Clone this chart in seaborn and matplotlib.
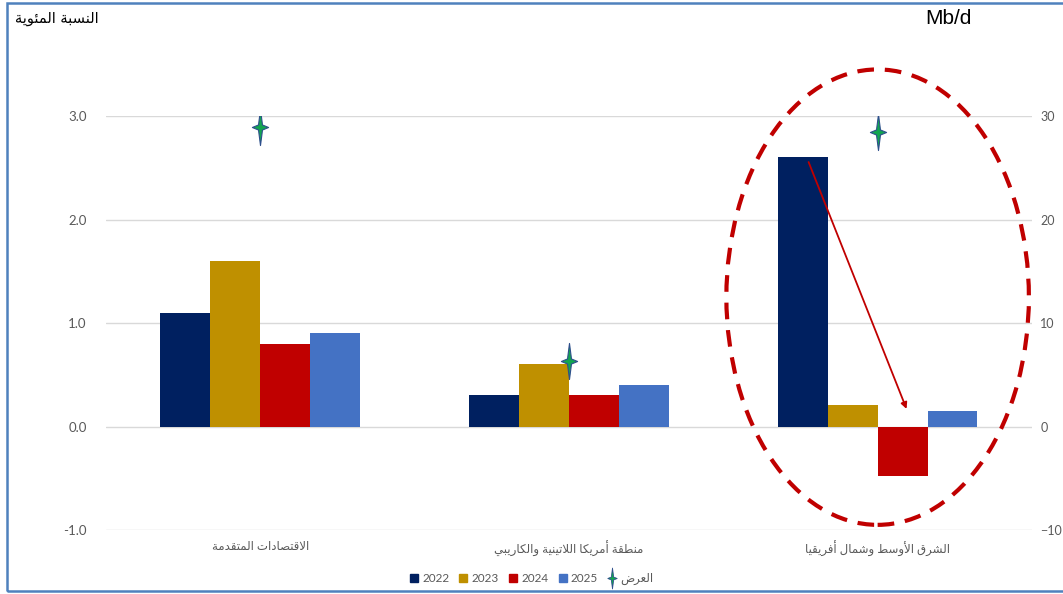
import numpy as np
import pandas as pd
import seaborn as sns
import matplotlib
matplotlib.use("Agg")
from matplotlib import pyplot as plt
from matplotlib.patches import Ellipse, Rectangle, FancyArrowPatch
from matplotlib.path import Path
from matplotlib.lines import Line2D

# ---- data ----
regions = ["الاقتصادات المتقدمة", "منطقة أمريكا اللاتينية والكاريبي", "الشرق الأوسط وشمال أفريقيا"]
years = ["2022", "2023", "2024", "2025"]
growth_2022 = [1.1, 0.3, 2.6]
growth_2023 = [1.6, 0.6, 0.21]
growth_2024 = [0.8, 0.3, -0.48]
growth_2025 = [0.9, 0.4, 0.15]
supply = [28.9, 6.3, 28.5]   # Mb/d, right axis

colors = ["#002060", "#bf9000", "#c00000", "#4472c4"]
grey = "#595959"

# ---- minimal arabic shaping (matplotlib does no joining / bidi) ----
FORMS = {
    'ا': ('\ufe8d', '\ufe8e', None, None),
    'أ': ('\ufe83', '\ufe84', None, None),
    'ب': ('\ufe8f', '\ufe90', '\ufe91', '\ufe92'),
    'ة': ('\ufe93', '\ufe94', None, None),
    'ت': ('\ufe95', '\ufe96', '\ufe97', '\ufe98'),
    'د': ('\ufea9', '\ufeaa', None, None),
    'ر': ('\ufead', '\ufeae', None, None),
    'س': ('\ufeb1', '\ufeb2', '\ufeb3', '\ufeb4'),
    'ش': ('\ufeb5', '\ufeb6', '\ufeb7', '\ufeb8'),
    'ص': ('\ufeb9', '\ufeba', '\ufebb', '\ufebc'),
    'ض': ('\ufebd', '\ufebe', '\ufebf', '\ufec0'),
    'ط': ('\ufec1', '\ufec2', '\ufec3', '\ufec4'),
    'ع': ('\ufec9', '\ufeca', '\ufecb', '\ufecc'),
    'ف': ('\ufed1', '\ufed2', '\ufed3', '\ufed4'),
    'ق': ('\ufed5', '\ufed6', '\ufed7', '\ufed8'),
    'ك': ('\ufed9', '\ufeda', '\ufedb', '\ufedc'),
    'ل': ('\ufedd', '\ufede', '\ufedf', '\ufee0'),
    'م': ('\ufee1', '\ufee2', '\ufee3', '\ufee4'),
    'ن': ('\ufee5', '\ufee6', '\ufee7', '\ufee8'),
    'و': ('\ufeed', '\ufeee', None, None),
    'ي': ('\ufef1', '\ufef2', '\ufef3', '\ufef4'),
    'ئ': ('\ufe89', '\ufe8a', '\ufe8b', '\ufe8c'),
    'لا': ('\ufefb', '\ufefc', None, None),
    'لأ': ('\ufef7', '\ufef8', None, None),
}


def shape(text):
    units = []
    i = 0
    while i < len(text):
        if text[i] == 'ل' and i + 1 < len(text) and text[i + 1] in 'اأ':
            units.append(text[i:i + 2])
            i += 2
        else:
            units.append(text[i])
            i += 1
    out = []
    for k, u in enumerate(units):
        if u not in FORMS:
            out.append(u)
            continue
        iso, fin, ini, med = FORMS[u]
        prev = units[k - 1] if k > 0 else None
        nxt = units[k + 1] if k + 1 < len(units) else None
        join_prev = prev in FORMS and FORMS[prev][2] is not None
        join_next = ini is not None and nxt in FORMS
        if join_prev and join_next:
            out.append(med)
        elif join_prev:
            out.append(fin)
        elif join_next:
            out.append(ini)
        else:
            out.append(iso)
    return ''.join(out)[::-1]


df = pd.DataFrame({
    "region": regions * 4,
    "year": [y for y in years for _ in regions],
    "value": growth_2022 + growth_2023 + growth_2024 + growth_2025,
})

sns.set_style("white")
plt.rcParams['font.family'] = ['Lato', 'DejaVu Sans']

fig = plt.figure(figsize=(10.63, 5.94), dpi=100)
ax = fig.add_axes([0.0997, 0.1077, 0.8711, 0.697])

sns.barplot(data=df, x="region", y="value", hue="year", order=regions,
            hue_order=years, palette=colors, saturation=1, width=0.647,
            gap=0, edgecolor="none", linewidth=0, legend=False, ax=ax)

ax.set_ylim(-1, 3)
ax.set_xlim(-0.5, 2.5)
ax.set_yticks([-1, 0, 1, 2, 3])
ax.set_yticklabels(["-1.0", "0.0", "1.0", "2.0", "3.0"])
ax.yaxis.grid(True, color="#d9d9d9", lw=1)
ax.set_axisbelow(True)
for s in ax.spines.values():
    s.set_visible(False)
ax.tick_params(axis="y", length=0, pad=14, labelsize=9.5, labelcolor=grey)
ax.tick_params(axis="x", length=0, pad=8, labelsize=8.5, labelcolor=grey)
ax.set_xticks(range(len(regions)))
ax.set_xticklabels([shape(r) for r in regions])
ax.set_xlabel("")
ax.set_ylabel("")

# right axis: supply stars
ax2 = ax.twinx()
ax2.set_ylim(-10, 30)
ax2.set_yticks([-10, 0, 10, 20, 30])
for s in ax2.spines.values():
    s.set_visible(False)
ax2.tick_params(axis="y", length=0, pad=6, labelsize=9, labelcolor=grey)

star = Path([(0, 1.0), (0.11, 0.14), (0.45, 0), (0.11, -0.14), (0, -1.0),
             (-0.11, -0.14), (-0.45, 0), (-0.11, 0.14), (0, 1.0)],
            [Path.MOVETO] + [Path.LINETO] * 7 + [Path.CLOSEPOLY])
ax2.plot(range(len(regions)), supply, linestyle="none", marker=star,
         markersize=26, markerfacecolor="#12a550", markeredgecolor="#2e4f8c",
         markeredgewidth=0.8, zorder=5)

# dashed ellipse and arrow around MENA
ell = Ellipse((2, 1.25), width=0.98, height=4.4, fill=False, edgecolor="#c00000",
              lw=3, linestyle=(0, (4, 2.6)), clip_on=False, zorder=6)
ax.add_patch(ell)
arr = FancyArrowPatch((1.773, 2.58), (2.097, 0.145), arrowstyle="-|>",
                      mutation_scale=9, color="#c00000", lw=1.3, zorder=7)
ax.add_patch(arr)

# top texts
fig.text(15 / 1063, 1 - 18 / 594, shape("النسبة المئوية"), ha="left", va="center",
         fontsize=10.5, color="black", family=["DejaVu Sans"])
fig.text(925 / 1063, 1 - 19 / 594, "Mb/d", ha="left", va="center",
         fontsize=15, color="black", family=["Liberation Sans"])

# legend
handles = [Line2D([], [], linestyle="none", marker="s", markersize=6,
                  markerfacecolor=c, markeredgecolor=c) for c in colors]
handles.append(Line2D([], [], linestyle="none", marker=star, markersize=15,
                      markerfacecolor="#12a550", markeredgecolor="#2e4f8c",
                      markeredgewidth=0.6))
labels = years + [shape("العرض")]
fig.legend(handles, labels, loc="center", bbox_to_anchor=(0.5, 1 - 579 / 594),
           ncol=5, frameon=False, fontsize=8.5, labelcolor=grey,
           handlelength=0.8, handletextpad=0.3, columnspacing=0.8)

# blue frame around the chart
fig.patches.append(Rectangle((7 / 1063, 3 / 594), 1.2, 588 / 594, transform=fig.transFigure,
                             fill=False, edgecolor="#4f81bd", lw=1.8))

fig.savefig("out.png", dpi=100)
